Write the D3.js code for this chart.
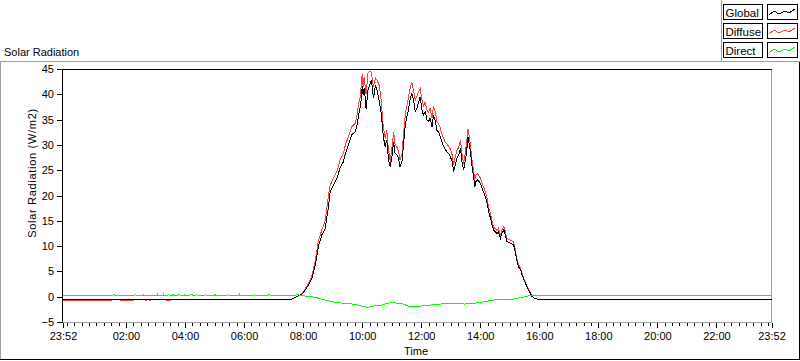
<!DOCTYPE html>
<html>
<head>
<meta charset="utf-8">
<script src="https://cdn.jsdelivr.net/npm/d3@7"></script>
<style>
  body { margin: 0; background: #fff; }
  svg { display: block; font-family: "Liberation Sans", Arial, sans-serif; }
</style>
</head>
<body>
<div id="chart"></div>
<script>
// times are minutes from midnight, the record starts at 23:52 the day before (-8)
var globalTimes = [-8,457,467,478,484,491,498,505,511,518,525,532,535,542,549,555,562,566,572,579,
  586,589,593,596,599,600,602,604,606,608,612,616,619,621,623,627,630,635,639,641,
  643,647,650,652,655,657,661,664,667,671,674,677,681,684,688,691,694,698,701,705,
  708,711,715,718,722,725,728,732,735,738,742,745,749,752,755,759,762,766,769,772,
  776,779,783,786,789,793,796,800,803,806,810,813,815,818,820,823,827,829,831,835,
  840,844,850,854,857,861,864,867,874,877,881,884,888,891,894,901,908,911,915,918,
  922,925,928,932,935,938,942,945,950,956,1432];
var globalValues = [-0.5,-0.5,0,0.5,1.3,2.3,3.6,6.3,9.9,12.2,13.5,18.1,20.8,22.1,23.4,25.4,26.7,28.3,30,32,
  32.6,33.6,35.9,37.5,39.5,41.7,39.8,41.2,39.5,37.2,40.9,42,42.8,40.9,39.2,41.8,40.9,38.5,36.2,33.9,
  31.6,29.6,31,28.7,26.4,25.7,28,30.6,28.3,28,27.4,25.7,26.7,30,34.3,35.6,36.9,39.2,40.2,38.5,
  36.6,37.2,38.5,39.5,36.6,35.9,36.6,34.9,34.6,35.3,33.6,35.9,34.6,32.9,32.6,31.6,30.6,29.6,29,28.7,
  28.3,27.7,26.7,24.7,26,27.4,28,29.3,26.7,25,27,29.3,31.6,30,28.7,26,23.4,21.7,22.7,23.1,
  22.4,21.4,19.8,18.5,16.8,15.5,14.2,13.2,12.5,12.8,11.5,12.5,13.2,12.2,10.9,10.6,10.2,8.9,6.9,5.9,
  5.3,4.3,3.6,2.6,2,1.3,0.7,0.1,-0.3,-0.5,-0.5];

var diffuseTimes = [-8,34,35,36,91,92,107,108,135,136,158,159,162,163,166,167,169,170,202,203,210,211,457,
  467,478,484,491,498,505,511,518,525,532,535,542,549,555,562,566,572,579,586,589,
  593,596,599,600,602,604,606,608,612,616,619,621,623,627,630,635,639,641,643,647,
  650,652,655,657,661,664,667,671,674,677,681,684,688,691,694,698,701,705,708,711,
  715,718,722,725,728,732,735,738,742,745,749,752,755,759,762,766,769,772,776,779,
  783,786,789,793,796,800,803,806,810,813,815,818,820,823,827,829,831,835,840,844,
  850,854,857,861,864,867,874,877,881,884,888,891,894,901,908,911,915,918,922,925,
  928,932,935,938,942,945,950,956,1432];
var diffuseValues = [-0.7,-0.7,-0.5,-0.7,-0.7,-0.5,-0.5,-0.7,-0.7,-0.5,-0.5,-0.7,-0.7,-0.5,-0.5,-0.7,-0.7,-0.5,-0.5,-0.7,-0.7,-0.5,-0.5,
  0,0.6,1.5,2.6,4.2,7.2,11,13.2,15,20.4,22,23.5,24.8,27,28.4,30,31.6,33.6,34.3,35.5,
  38.2,39.4,42.5,44.1,41.5,43.5,41.6,40,44.3,44.6,44.3,42.8,41.5,43.2,42.8,41.8,38.5,36,33.5,31.2,
  33,30.5,28,26.7,29.8,32.5,30,29.5,28.8,27,28.2,32,36.2,37.8,39.3,41.5,42.4,40.5,38.8,39.6,
  40.5,41.2,38.6,37.8,38.4,36.8,36.5,37.2,35.4,37.6,36.4,34.5,34.2,33.3,32.2,31.2,30.5,30.2,29.7,29.2,
  28,26,27.5,29,29.5,30.9,28.2,26.3,28.6,31,33.2,31.4,30,27.2,24.6,23,24,24.3,23.5,22.4,
  20.8,19.5,17.6,16.3,14.9,13.8,13.1,13.5,12.1,13.2,13.9,12.9,11.5,11.2,10.8,9.4,7.3,6.3,5.6,4.6,
  3.8,2.8,2.1,1.4,0.8,0.1,-0.3,-0.5,-0.5];

var directTimes = [-8,93,94,96,97,138,139,140,141,155,156,157,183,184,185,195,196,197,205,206,208,
  214,215,217,226,227,229,230,238,239,241,250,251,254,255,262,263,265,280,281,284,
  300,301,303,325,326,328,350,351,353,380,381,383,410,411,413,448,
  470,484,498,511,532,552,586,600,612,625,640,650,660,680,697,720,745,775,808,836,869,910,938,948,1432];
var directValues = [0.27,0.27,0.47,0.47,0.27,0.27,0.47,0.47,0.27,0.27,0.47,0.27,0.27,0.47,0.27,0.27,0.47,0.27,0.27,0.47,0.27,
  0.27,0.47,0.27,0.27,0.47,0.47,0.27,0.27,0.47,0.27,0.27,0.47,0.47,0.27,0.27,0.47,0.27,0.27,0.47,0.27,
  0.27,0.47,0.27,0.27,0.47,0.27,0.27,0.47,0.27,0.27,0.47,0.27,0.27,0.47,0.27,0.27,
  0.35,0.14,0,-0.3,-0.85,-1.2,-1.5,-1.9,-2.1,-1.8,-1.64,-1.3,-1.2,-1.3,-2,-1.84,-1.6,-1.3,-1.45,-1.2,-0.65,-0.45,0.14,0.2,0.2];

var seriesNames = ['Global', 'Diffuse', 'Direct'];
var seriesColors = ['#000000', '#ff4040', '#00ff00'];

var yTicks = [-5, 0, 5, 10, 15, 20, 25, 30, 35, 40, 45];
var xTickMinutes = [-8, 120, 240, 360, 480, 600, 720, 840, 960, 1080, 1200, 1320, 1432];
var xTickLabels = ['23:52', '02:00', '04:00', '06:00', '08:00', '10:00', '12:00',
  '14:00', '16:00', '18:00', '20:00', '22:00', '23:52'];

function zip(times, values) {
  return times.map(function (t, i) { return [t, values[i]]; });
}

var W = 800, H = 361;
var plot = {left: 62, top: 69, right: 772, bottom: 322};

var svg = d3.select('#chart').append('svg')
  .attr('width', W)
  .attr('height', H);

// panel frames
var frame = svg.append('g').attr('shape-rendering', 'crispEdges');
frame.append('line').attr('x1', 0).attr('x2', W).attr('y1', 61.5).attr('y2', 61.5).attr('stroke', '#a0a0a0');
frame.append('line').attr('x1', 721.5).attr('x2', 721.5).attr('y1', 0).attr('y2', 62).attr('stroke', '#a0a0a0');
frame.append('line').attr('x1', 0.5).attr('x2', 0.5).attr('y1', 61.5).attr('y2', 359).attr('stroke', '#a0a0a0');
frame.append('line').attr('x1', 0).attr('x2', W).attr('y1', 359.5).attr('y2', 359.5).attr('stroke', '#000');
frame.append('line').attr('x1', 799.5).attr('x2', 799.5).attr('y1', 61.5).attr('y2', 360).attr('stroke', '#000');

svg.append('text')
  .attr('x', 4).attr('y', 56)
  .style('font-size', '11px')
  .text('Solar Radiation');

// scales
var x = d3.scaleLinear().domain([-8, 1432]).range([63, 771.5]);
var y = d3.scaleLinear().domain([-5, 45]).range([plot.bottom, plot.top]);

// plot box: black top/left, grey right/bottom
frame.append('line').attr('x1', plot.left).attr('x2', plot.right).attr('y1', plot.bottom + 0.5).attr('y2', plot.bottom + 0.5).attr('stroke', '#a0a0a0');
frame.append('line').attr('x1', plot.right - 0.5).attr('x2', plot.right - 0.5).attr('y1', plot.top).attr('y2', plot.bottom).attr('stroke', '#a0a0a0');
frame.append('line').attr('x1', plot.left).attr('x2', plot.right).attr('y1', plot.top + 0.5).attr('y2', plot.top + 0.5).attr('stroke', '#000');
frame.append('line').attr('x1', plot.left + 0.5).attr('x2', plot.left + 0.5).attr('y1', plot.top).attr('y2', plot.bottom + 1).attr('stroke', '#000');

// y axis
var yAxis = svg.append('g')
  .attr('transform', 'translate(' + plot.left + ',0)')
  .call(d3.axisLeft(y).tickValues(yTicks).tickSize(5).tickPadding(3));
yAxis.select('.domain').remove();
yAxis.selectAll('text').style('font-size', '11px').attr('fill', '#000').style('font-family', null);
yAxis.selectAll('line').attr('stroke', '#000').attr('shape-rendering', 'crispEdges');

// x axis, minor every 15 min then major ticks with labels
var minor = d3.range(0, 1440, 15).filter(function (m) { return xTickMinutes.indexOf(m) < 0; });
var xMinor = svg.append('g')
  .attr('transform', 'translate(0,' + (plot.bottom + 1) + ')')
  .call(d3.axisBottom(x).tickValues(minor).tickSize(3).tickFormat(''));
xMinor.select('.domain').remove();

var xAxis = svg.append('g')
  .attr('transform', 'translate(0,' + (plot.bottom + 1) + ')')
  .call(d3.axisBottom(x).tickValues(xTickMinutes).tickSize(5).tickPadding(4)
    .tickFormat(function (d, i) { return xTickLabels[i]; }));
xAxis.select('.domain').remove();
xAxis.selectAll('text').style('font-size', '11px').attr('fill', '#000').style('font-family', null);
svg.selectAll('.tick line').attr('stroke', '#000').attr('shape-rendering', 'crispEdges');

// axis titles
svg.append('text')
  .attr('x', 416).attr('y', 355)
  .attr('text-anchor', 'middle')
  .style('font-size', '11px')
  .text('Time');

svg.append('text')
  .attr('transform', 'translate(36,173) rotate(-90)')
  .attr('text-anchor', 'middle')
  .style('font-size', '11px')
  .style('letter-spacing', '0.7px')
  .text('Solar Radiation (W/m2)');

// plots
var line = d3.line()
  .x(function (d) { return x(d[0]); })
  .y(function (d) { return y(d[1]); });

var plots = svg.append('g');
var drawOrder = [
  [zip(diffuseTimes, diffuseValues), seriesColors[1]],
  [zip(globalTimes, globalValues), seriesColors[0]],
  [zip(directTimes, directValues), seriesColors[2]]
];
drawOrder.forEach(function (p) {
  plots.append('path')
    .datum(p[0])
    .attr('d', line)
    .attr('fill', 'none')
    .attr('stroke', p[1])
    .attr('stroke-width', 1)
    .attr('shape-rendering', 'crispEdges');
});

// legend
var sample = [[2, 11], [7, 7], [12, 10], [18, 7], [22, 9], [28, 5]];
var legend = svg.append('g').attr('shape-rendering', 'crispEdges');
seriesNames.forEach(function (name, i) {
  var top = 4 + i * 19;
  legend.append('rect')
    .attr('x', 723.5).attr('y', top + 0.5)
    .attr('width', 39).attr('height', 15)
    .attr('fill', '#fff').attr('stroke', '#000');
  legend.append('text')
    .attr('x', 725.5).attr('y', top + 12.5)
    .style('font-size', '11.5px')
    .text(name);
  legend.append('rect')
    .attr('x', 767.5).attr('y', top + 0.5)
    .attr('width', 30).attr('height', 15)
    .attr('fill', '#fff').attr('stroke', '#000');
  legend.append('path')
    .attr('d', d3.line()(sample.map(function (s) { return [767 + s[0], top + s[1]]; })))
    .attr('fill', 'none')
    .attr('stroke', seriesColors[i]);
});
</script>
</body>
</html>
